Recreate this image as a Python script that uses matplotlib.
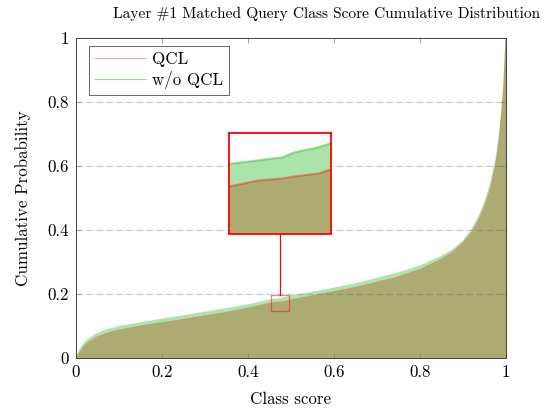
import matplotlib
matplotlib.use("Agg")
import matplotlib.pyplot as plt
from matplotlib.patches import Rectangle

plt.rcParams['font.family'] = ['cmr10', 'DejaVu Serif']
plt.rcParams['axes.unicode_minus'] = False
plt.rcParams['mathtext.fontset'] = 'cm'

score = [0, 0.005, 0.01, 0.02, 0.03, 0.05, 0.075, 0.1, 0.15, 0.2, 0.25, 0.3, 0.35, 0.4,
         0.45, 0.455, 0.465, 0.475, 0.48, 0.49, 0.495, 0.5, 0.55, 0.6, 0.65, 0.7, 0.75,
         0.8, 0.85, 0.875, 0.9, 0.92, 0.94, 0.955, 0.965, 0.975, 0.98, 0.985, 0.99, 0.995, 1.0]
cdf_wo_qcl = [0, 0.015, 0.028, 0.048, 0.06, 0.077, 0.089, 0.098, 0.11, 0.121, 0.132, 0.143, 0.154, 0.166,
              0.181, 0.182, 0.1835, 0.185, 0.1875, 0.190, 0.192, 0.194, 0.205, 0.218, 0.232, 0.249, 0.266,
              0.287, 0.318, 0.337, 0.365, 0.40, 0.45, 0.504, 0.55, 0.61, 0.65, 0.70, 0.77, 0.85, 1.0]
cdf_qcl = [0, 0.010, 0.020, 0.038, 0.050, 0.066, 0.078, 0.087, 0.099, 0.110, 0.120, 0.131, 0.142, 0.155,
           0.170, 0.171, 0.1735, 0.1745, 0.1755, 0.177, 0.179, 0.181, 0.194, 0.207, 0.220, 0.236, 0.253,
           0.276, 0.308, 0.330, 0.360, 0.392, 0.44, 0.49, 0.535, 0.595, 0.635, 0.69, 0.76, 0.845, 1.0]

ticks = [0, 0.2, 0.4, 0.6, 0.8, 1]
tick_labels = ['0', '0.2', '0.4', '0.6', '0.8', '1']

zoom_x = (0.453, 0.495)
zoom_y = (0.147, 0.197)
inset_box = (0.356, 0.3875, 0.593, 0.703)

RED = (1.0, 0.0, 0.0)
GREEN = (0.0, 0.67, 0.0)
FA = 0.33
FS = 12.2

fig = plt.figure(figsize=(5.44, 4.09), dpi=100)
ax = fig.add_axes([76/544, 51/409, 430/544, 320/409])

def draw(a, lw, la):
    a.fill_between(score, 0, cdf_qcl, color=RED, alpha=FA, lw=0)
    a.fill_between(score, 0, cdf_wo_qcl, color=GREEN, alpha=FA, lw=0)
    a.plot(score, cdf_qcl, color=RED, alpha=la, lw=lw)
    a.plot(score, cdf_wo_qcl, color=GREEN, alpha=la, lw=lw)

draw(ax, 0.8, 0.35)
l1, = ax.plot([], [], color=(1, 0.65, 0.65), lw=0.8, label='QCL')
l2, = ax.plot([], [], color=(0.6, 0.87, 0.6), lw=0.8, label='w/o QCL')

ax.set_xlim(0, 1)
ax.set_ylim(0, 1)
ax.set_xticks(ticks)
ax.set_xticklabels(tick_labels)
ax.set_yticks(ticks)
ax.set_yticklabels(tick_labels)
ax.tick_params(direction='in', length=3.5, width=0.5, color='#808080', top=True, right=True,
               labelsize=FS, pad=5)
for s in ax.spines.values():
    s.set_linewidth(0.7)
    s.set_color('#404040')
for yv in ticks[1:-1]:
    ax.axhline(yv, color='#c8c8c8', lw=0.8, dashes=(6, 3), zorder=0.5)

ax.set_xlabel('Class score', fontsize=FS, labelpad=8)
ax.set_ylabel('Cumulative Probability', fontsize=FS, labelpad=12)
fig.text(327/544, 1 - 14/409, 'Layer #1 Matched Query Class Score Cumulative Distribution',
         ha='center', va='center', fontsize=11.1)

leg = ax.legend(handles=[l1, l2], loc='upper left', bbox_to_anchor=(0.03, 0.975),
                fontsize=FS, frameon=True, fancybox=False, edgecolor='#404040',
                handlelength=3.0, borderpad=0.35, labelspacing=0.2, handletextpad=0.4,
                borderaxespad=0)
leg.get_frame().set_linewidth(0.7)

# small zoom rectangle
ax.add_patch(Rectangle((zoom_x[0], zoom_y[0]), zoom_x[1] - zoom_x[0], zoom_y[1] - zoom_y[0],
                       fill=False, edgecolor=RED, alpha=0.5, lw=0.9, zorder=5))
# connector
ax.plot([0.474, 0.474], [zoom_y[1], inset_box[1]], color=RED, lw=0.9, zorder=5)

axin = ax.inset_axes([inset_box[0], inset_box[1], inset_box[2] - inset_box[0], inset_box[3] - inset_box[1]],
                     transform=ax.transData, zorder=6)
axin.set_facecolor('white')
draw(axin, 1.6, 0.35)
axin.set_xlim(*zoom_x)
axin.set_ylim(*zoom_y)
axin.set_xticks([])
axin.set_yticks([])
for s in axin.spines.values():
    s.set_color(RED)
    s.set_linewidth(1.3)

fig.savefig('out.png', dpi=100)
